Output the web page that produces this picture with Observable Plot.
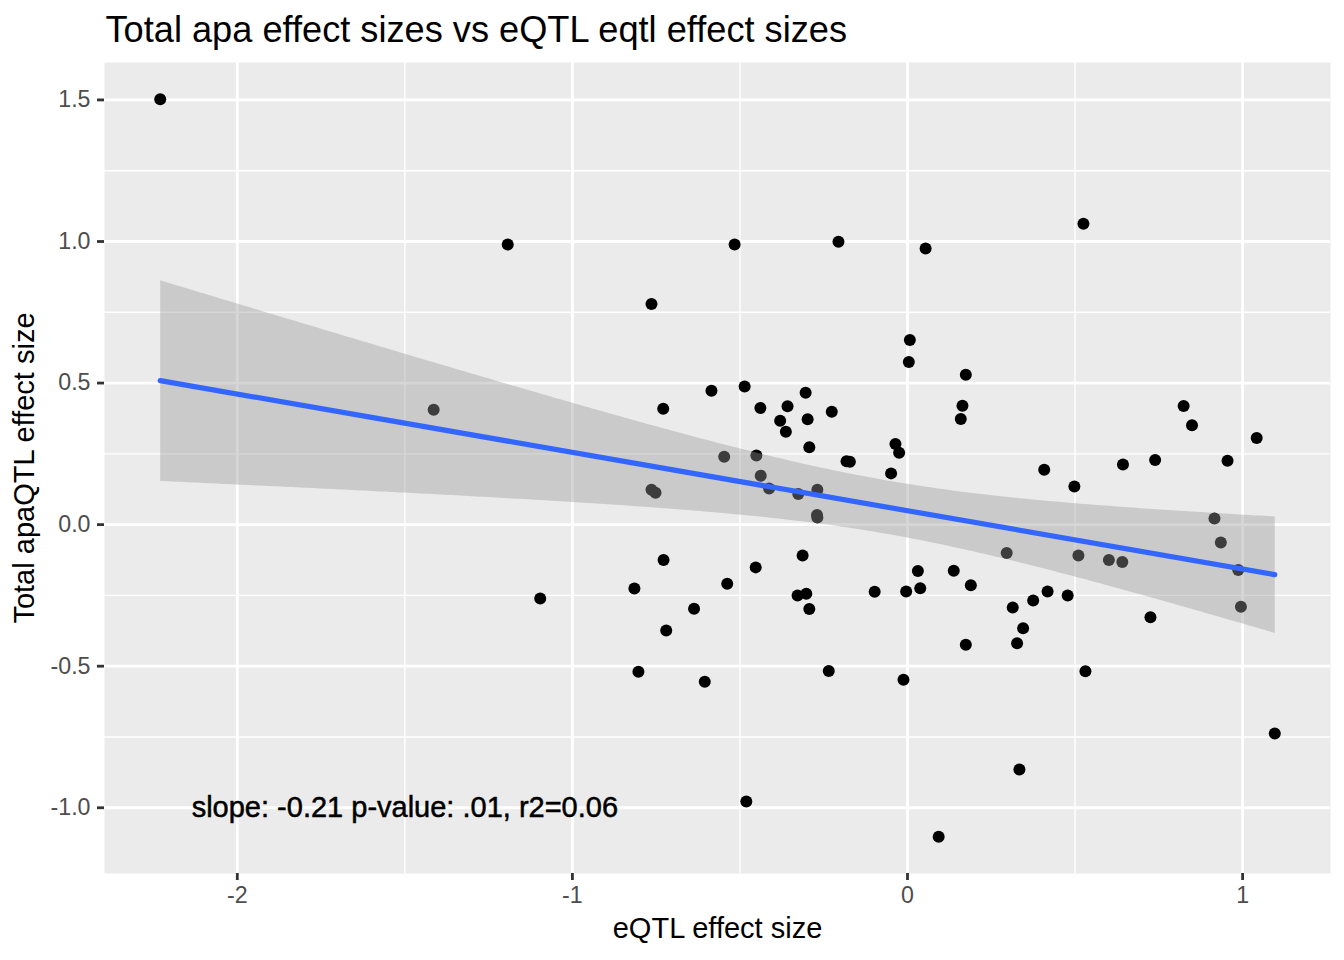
<!DOCTYPE html>
<html><head><meta charset="utf-8">
<script src="https://cdn.jsdelivr.net/npm/d3@7"></script>
<script src="https://cdn.jsdelivr.net/npm/@observablehq/plot@0.6"></script>
<style>body{margin:0;background:#fff;} svg{display:block}</style>
</head><body><div id="chart"></div>
<script>
const titleText = "Total apa effect sizes vs eQTL eqtl effect sizes";
const xLabel = "eQTL effect size";
const yLabel = "Total apaQTL effect size";
const annotationText = "slope: -0.21 p-value: .01, r2=0.06";
const annotationX = -1.5;
const annotationY = -1.0;
const xTicks = [-2, -1, 0, 1];
const yTicks = [-1, -0.5, 0, 0.5, 1, 1.5];
const xMinor = [-1.5, -0.5, 0.5];
const yMinor = [-0.75, -0.25, 0.25, 0.75, 1.25];

const eqtlEffect = [
  -2.230, -1.193, -1.414, -1.096, -0.764, -0.516, -0.206, 0.054, 0.525, -0.729,
  -0.585, -0.486, -0.439, -0.380, -0.358, -0.363, -0.304, -0.298, -0.293, -0.226,
  -0.182, -0.172, 0.007, 0.004, 0.174, 0.164, 0.159, -0.036, -0.025, -0.049,
  -0.547, -0.451, -0.438, -0.413, -0.764, -0.752, -0.326, -0.269, -0.270, -0.269,
  -0.728, -0.453, -0.313, -0.815, -0.538, -0.328, -0.302, -0.637, -0.293, -0.720,
  -0.803, -0.605, -0.235, -0.481, -0.098, -0.004, 0.031, 0.038, -0.012, 0.093,
  0.138, 0.189, 0.174, 0.296, 0.314, 0.327, 0.345, 0.334, 0.375, 0.418,
  0.408, 0.478, 0.498, 0.510, 0.531, 0.601, 0.641, 0.643, 0.725, 0.739,
  0.824, 0.849, 0.916, 0.935, 0.955, 0.987, 0.995, 1.042, 1.096
];
const apaEffect = [
  1.502, 0.989, 0.406, -0.261, 0.779, 0.989, 0.999, 0.975, 1.063, 0.409,
  0.473, 0.488, 0.412, 0.367, 0.418, 0.328, 0.466, 0.372, 0.273, 0.399,
  0.224, 0.222, 0.652, 0.574, 0.529, 0.420, 0.373, 0.285, 0.254, 0.181,
  0.240, 0.244, 0.173, 0.128, 0.123, 0.113, 0.108, 0.123, 0.034, 0.025,
  -0.125, -0.151, -0.109, -0.226, -0.209, -0.250, -0.244, -0.297, -0.298, -0.374,
  -0.520, -0.555, -0.517, -0.978, -0.237, -0.236, -0.164, -0.225, -0.548, -1.102,
  -0.163, -0.214, -0.424, -0.100, -0.293, -0.419, -0.366, -0.865, -0.268, -0.236,
  0.194, -0.250, 0.135, -0.109, -0.518, -0.125, -0.132, 0.212, -0.327, 0.228,
  0.419, 0.351, 0.022, -0.063, 0.226, -0.160, -0.290, 0.306, -0.738
];

const data = eqtlEffect.map((x, i) => ({x, y: apaEffect[i]}));
function expand([a, b]) { const d = (b - a) * 0.05; return [a - d, b + d]; }
const xDomain = expand(d3.extent(eqtlEffect));
const yDomain = expand(d3.extent(apaEffect));
const font = "'Liberation Sans', Arial, Helvetica, sans-serif";

const chart = Plot.plot({
  width: 1344, height: 960,
  marginLeft: 104, marginRight: 14, marginTop: 62, marginBottom: 87,
  style: {fontFamily: font, background: "#ffffff", overflow: "visible"},
  x: {domain: xDomain},
  y: {domain: yDomain},
  marks: [
    Plot.frame({fill: "#EBEBEB", stroke: null}),
    Plot.gridX(xMinor, {stroke: "#ffffff", strokeOpacity: 1, strokeWidth: 1.4}),
    Plot.gridY(yMinor, {stroke: "#ffffff", strokeOpacity: 1, strokeWidth: 1.4}),
    Plot.gridX(xTicks, {stroke: "#ffffff", strokeOpacity: 1, strokeWidth: 2.8}),
    Plot.gridY(yTicks, {stroke: "#ffffff", strokeOpacity: 1, strokeWidth: 2.8}),
    Plot.dot(data, {x: "x", y: "y", r: 6, fill: "#000000", stroke: null}),
    Plot.linearRegressionY(data, {x: "x", y: "y", stroke: "#3366FF", strokeWidth: 5.2, fill: "#999999", fillOpacity: 0.4, ci: 0.95}),
    Plot.text([annotationText], {x: () => annotationX, y: () => annotationY, text: d => d, fontSize: 29, fill: "#000000", stroke: "#000000", strokeWidth: 0.5, textAnchor: "middle", lineAnchor: "middle"}),
    Plot.axisX({ticks: xTicks, tickSize: 7, tickPadding: 6, fontSize: 23.2, stroke: "#333333", strokeWidth: 2.8, fill: "#4D4D4D", tickFormat: d => String(d), label: null}),
    Plot.axisY({ticks: yTicks, tickSize: 7, tickPadding: 7, fontSize: 23.2, stroke: "#333333", strokeWidth: 2.8, fill: "#4D4D4D", tickFormat: d => d.toFixed(1), label: null}),
    Plot.text([titleText], {frameAnchor: "top-left", dx: 1, dy: -21, textAnchor: "start", lineAnchor: "bottom", fontSize: 36.2, fill: "#000000", text: d => d}),
    Plot.text([xLabel], {frameAnchor: "bottom", dy: 64, textAnchor: "middle", lineAnchor: "bottom", fontSize: 29, fill: "#000000", text: d => d}),
    Plot.text([yLabel], {frameAnchor: "left", dx: -71, rotate: -90, textAnchor: "middle", lineAnchor: "bottom", fontSize: 29, fill: "#000000", text: d => d})
  ]
});
document.getElementById("chart").appendChild(chart);
</script>
</body></html>
